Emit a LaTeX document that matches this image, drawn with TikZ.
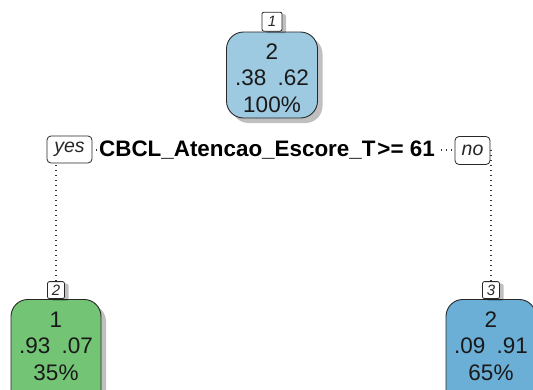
\documentclass[tikz,border=0pt]{standalone}
\usepackage{fontspec}
\setmainfont{Liberation Sans}
\usetikzlibrary{shadows}

\definecolor{rootfill}{RGB}{158,202,225}
\definecolor{leftfill}{RGB}{116,196,118}
\definecolor{rightfill}{RGB}{107,174,214}
\definecolor{edgegray}{RGB}{40,40,40}

\begin{document}
\begin{tikzpicture}[x=1pt,y=-1pt,
  treebox/.style={draw=edgegray, line width=0.9pt, rounded corners=17pt,
    minimum width=91pt, minimum height=86pt, inner sep=0pt,
    drop shadow={shadow xshift=5pt, shadow yshift=-5pt, fill=black, opacity=0.25}},
  boxtext/.style={align=center, inner sep=0pt,
    font=\fontsize{22.5}{26.5}\selectfont, text=black!90},
  tagbox/.style={draw=edgegray, line width=0.8pt, rounded corners=2pt, fill=white,
    minimum width=18pt, minimum height=18pt, inner sep=0pt,
    font=\fontsize{15}{15}\selectfont\itshape, text=black!85,
    drop shadow={shadow xshift=4pt, shadow yshift=-2pt, fill=black, opacity=0.25}},
  branchtag/.style={draw=edgegray, line width=0.8pt, rounded corners=4pt, fill=white,
    inner sep=0pt, font=\fontsize{19.5}{19.5}\selectfont\itshape, text=black!85},
  splittext/.style={fill=white, inner sep=2pt,
    font=\fontsize{22.4}{22.4}\selectfont\bfseries},
  branch/.style={line width=1.1pt, dash pattern=on 1.1pt off 3.9pt, draw=black!80}]

\useasboundingbox (0,0) rectangle (533,389);

% root node
\node[treebox, fill=rootfill] (root) at (272,75) {};
\node[boxtext] (roottxt) at (272,78) {2\\.38\enspace.62\\100\%};
\node[tagbox, minimum width=20pt, minimum height=19pt, anchor=south] (tag1) at (root.north) {1};

% split branch points
\coordinate (L) at (56,150);
\coordinate (R) at (491,150);

% leaves
\node[treebox, fill=leftfill, minimum width=90pt, minimum height=110pt, anchor=north] (leafL) at (56,299) {};
\node[boxtext] (leafLtxt) at (56,346) {1\\.93\enspace.07\\35\%};
\node[tagbox, minimum width=17pt, minimum height=17pt, anchor=south] (tag2) at (leafL.north) {2};

\node[treebox, fill=rightfill, minimum width=90pt, minimum height=110pt, anchor=north] (leafR) at (491,299) {};
\node[boxtext] (leafRtxt) at (491,346) {2\\.09\enspace.91\\65\%};
\node[tagbox, minimum width=17pt, minimum height=17pt, anchor=south] (tag3) at (leafR.north) {3};

% dotted branches
\draw[branch] (L) -- (R);
\draw[branch] (L) -- (tag2.north);
\draw[branch] (R) -- (tag3.north);

% split labels
\node[splittext] (split) at (267,150) {CBCL\_Atencao\_Escore\_T\kern2pt>= 61};
\node[branchtag, minimum width=45pt, minimum height=27pt] (yes) at (69.5,149.5) {yes};
\node[branchtag, minimum width=35pt, minimum height=28pt] (no) at (472.5,150.5) {no};

\end{tikzpicture}
\end{document}
